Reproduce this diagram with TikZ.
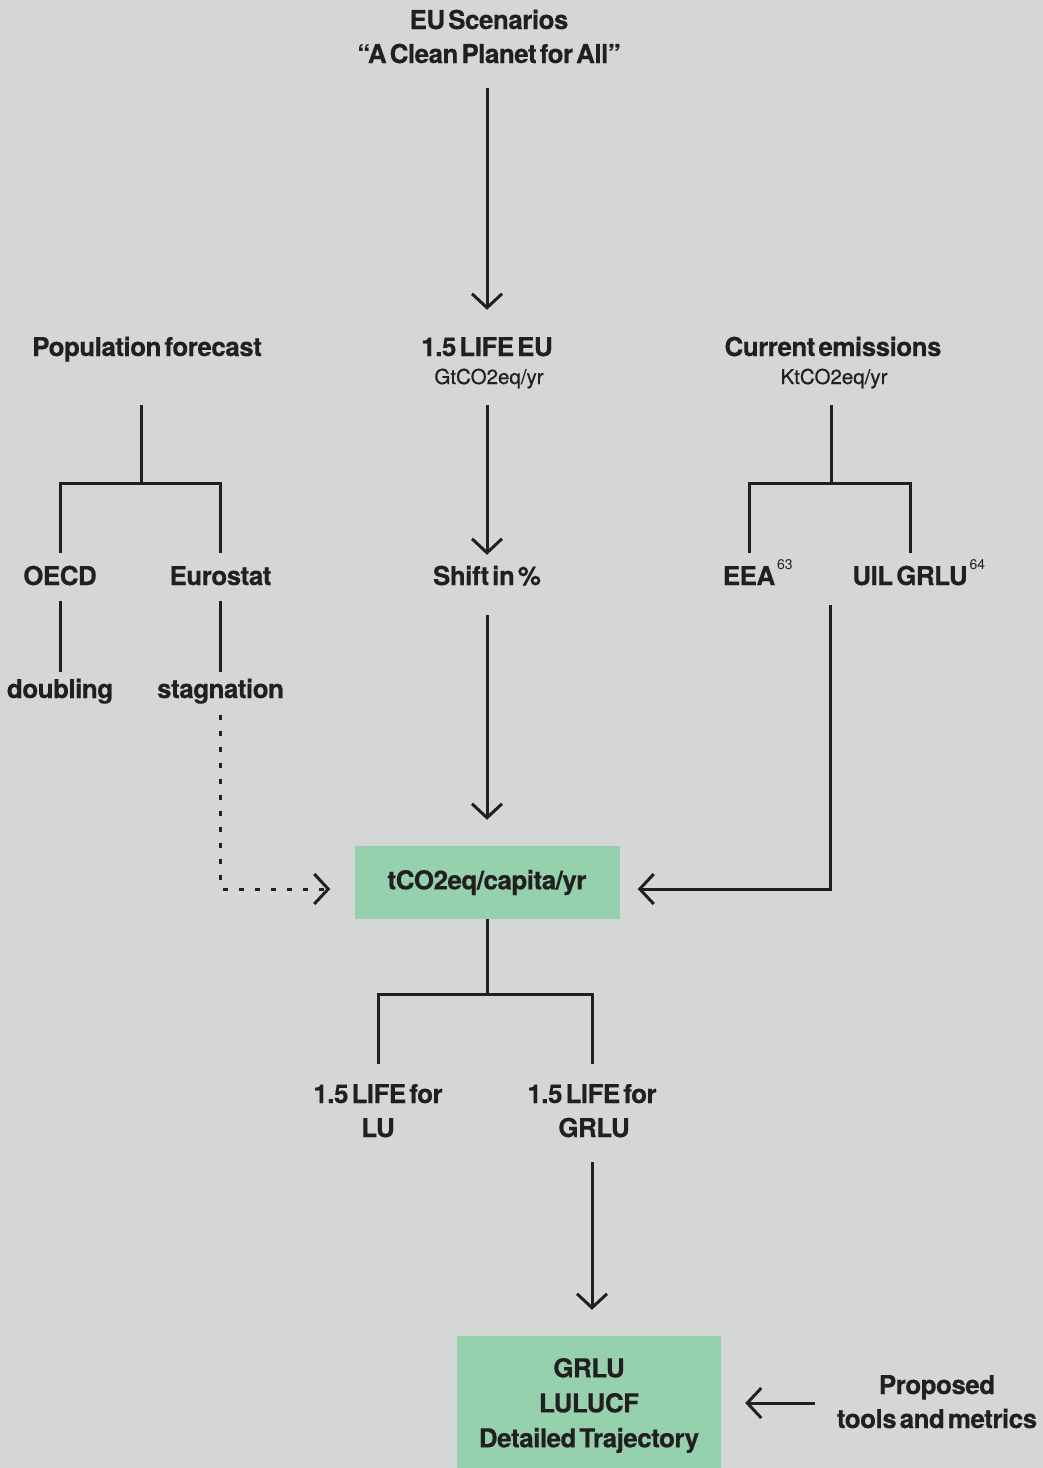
\documentclass[tikz,border=0pt]{standalone}
\usepackage{fontspec}
\setmainfont{TeX Gyre Heros}[LetterSpace=-2,WordSpace=0.45,BoldFeatures={FakeBold=0.4}]
\newfontfamily\unitfont{TeX Gyre Heros}[LetterSpace=0,FakeBold=0.6]
\newfontfamily\supfont{TeX Gyre Heros}[LetterSpace=0]
\usetikzlibrary{arrows.meta}
\definecolor{bg}{HTML}{D5D7D6}
\definecolor{ink}{HTML}{231F20}
\definecolor{boxgreen}{HTML}{94D1AC}
\newcommand\fnref[1]{\rlap{\kern2pt\raisebox{16pt}{\supfont\mdseries\fontsize{14}{16}\selectfont #1}}}
\tikzset{
  big/.style={font=\fontsize{26}{35}\selectfont\bfseries, text=ink, inner sep=0pt, text height=18pt, text depth=6pt, anchor=base},
  small/.style={font=\unitfont\fontsize{20.5}{22}\selectfont, text=ink, inner sep=0pt, text height=14pt, text depth=4pt, anchor=base},
  greenbox/.style={fill=boxgreen, inner sep=0pt, font=\fontsize{26}{35}\selectfont\bfseries, text=ink, align=center},
  conn/.style={draw=ink, line width=3pt},
  arr/.style={conn, -{Straight Barb[length=14pt,width=30pt]}},
  dots/.style={conn, dash pattern=on 5pt off 11pt, -{Straight Barb[length=14pt,width=30pt]}},
}
\begin{document}
\begin{tikzpicture}[x=1pt,y=-1pt]
\useasboundingbox (0,0) rectangle (1043,1468);
\fill[bg] (0,0) rectangle (1043,1468);
% top
\node[big] (eu1) at (489,29) {EU Scenarios};
\node[big] (eu2) at (489,63) {“A Clean Planet for All”};
\node[big] (pop) at (147,356) {Population forecast};
\node[big] (life) at (487,356) {1.5 LIFE EU};
\node[small] (lifeu) at (489,384) {GtCO2eq/yr};
\node[big] (cur) at (833,356) {Current emissions};
\node[small] (curu) at (834,384) {KtCO2eq/yr};
\node[big] (oecd) at (60,585) {OECD};
\node[big] (euro) at (220.5,585) {Eurostat};
\node[big] (shift) at (487,585) {Shift in \%};
\node[big] (eea) at (749,585) {EEA\fnref{63}};
\node[big] (uil) at (910,585) {UIL GRLU\fnref{64}};
\node[big] (doub) at (60,698) {doubling};
\node[big] (stag) at (220.5,698) {stagnation};
\node[greenbox, minimum width=265pt, minimum height=73pt] (box) at (487,882.5) {tCO2eq/capita/yr};
\node[big] (lu1) at (378,1103) {1.5 LIFE for};
\node[big] (lu2) at (378,1137) {LU};
\node[big] (gr1) at (592,1103) {1.5 LIFE for};
\node[big] (gr2) at (594,1137) {GRLU};
\node[greenbox, minimum width=264pt, minimum height=139pt] (box2) at (589,1405.5) {GRLU\\LULUCF\\Detailed Trajectory};
\node[big] (prop1) at (937,1394) {Proposed};
\node[big] (prop2) at (937,1428) {tools and metrics};
% coordinates
\coordinate (jL) at (141,483);
\coordinate (jR) at (831,483);
\coordinate (jB) at (487,994);
\coordinate (emisout) at (830,605);
\coordinate (propout) at (815,1403);
% connectors
\draw[arr, shorten <=19pt, shorten >=28pt] (eu2.south -| life) -- (life.north);
\draw[arr, shorten <=17pt, shorten >=12pt] (lifeu.south -| life) -- (shift.north);
\draw[arr, shorten <=24pt, shorten >=26pt] (shift) -- (box);
\draw[conn, shorten <=43pt] (pop.south -| jL) -- (jL);
\draw[conn, shorten <=14pt, shorten >=14pt] (oecd) |- (jL) -| (euro);
\draw[conn, shorten <=10pt, shorten >=8pt] (oecd) -- (doub);
\draw[conn, shorten <=10pt, shorten >=8pt] (euro) -- (stag);
\draw[dots, shorten <=11pt, shorten >=24pt] (stag) |- ([yshift=-6.5pt]box.west);
\draw[conn, shorten <=17pt] (curu.south -| jR) -- (jR);
\draw[conn, shorten <=14pt, shorten >=14pt] (eea) |- (jR) -| (uil);
\draw[arr, shorten >=18pt] (emisout) |- ([yshift=-6.5pt]box.east);
\draw[conn] (box) -- (jB);
\draw[conn, shorten <=21pt, shorten >=21pt] (lu1) |- (jB) -| (gr1);
\draw[arr, shorten <=19pt, shorten >=26pt] (gr2.south -| gr1) -- (gr1 |- box2.north);
\draw[arr, shorten >=24pt] (propout) -- (propout -| box2.east);
\end{tikzpicture}
\end{document}
